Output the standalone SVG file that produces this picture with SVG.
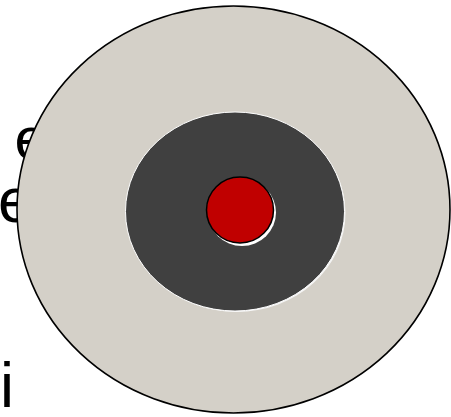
<svg xmlns="http://www.w3.org/2000/svg" width="451" height="417" viewBox="0 0 451 417">
  <style>
    .t { font-family: "Liberation Sans", Arial, sans-serif; fill: #000000; }
  </style>
  <rect x="0" y="0" width="451" height="417" fill="#ffffff"/>
  <g id="text-behind">
    <text class="t" x="14.5" y="159" font-size="60">e</text>
    <text class="t" x="-2" y="222" font-size="63">e</text>
    <text class="t" x="0" y="407" font-size="63">i</text>
  </g>
  <g id="outer">
    <ellipse cx="233.5" cy="209.5" rx="216.5" ry="203.5" fill="#D4D0C8" stroke="#000000" stroke-width="1.6"/>
  </g>
  <g id="middle">
    <ellipse cx="236.5" cy="213" rx="109" ry="99" fill="#F4F4F4"/>
    <ellipse cx="235" cy="211.5" rx="109.5" ry="99.5" fill="#404040" stroke="#FFFFFF" stroke-width="1"/>
  </g>
  <g id="core">
    <ellipse cx="242" cy="212.5" rx="34" ry="33.5" fill="#FFFFFF"/>
    <ellipse cx="240" cy="210" rx="33.5" ry="33" fill="#C00000" stroke="#000000" stroke-width="1.5"/>
  </g>
</svg>
